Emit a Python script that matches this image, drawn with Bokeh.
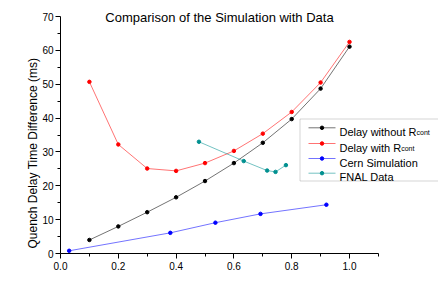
from bokeh.plotting import figure
from bokeh.models import Range1d, FixedTicker, PrintfTickFormatter, Label, BoxAnnotation, Title
from bokeh.embed import file_html
from bokeh.resources import INLINE

# ---- data ----
x_sim = [0.1, 0.2, 0.3, 0.4, 0.5, 0.6, 0.7, 0.8, 0.9, 1.0]
delay_without = [4.0, 8.0, 12.2, 16.6, 21.4, 26.7, 32.7, 39.7, 48.7, 61.1]
delay_with = [50.7, 32.2, 25.1, 24.4, 26.7, 30.3, 35.4, 41.8, 50.5, 62.5]
cern_x = [0.03, 0.38, 0.536, 0.692, 0.92]
cern_y = [0.8, 6.1, 9.1, 11.7, 14.4]
fnal_x = [0.479, 0.634, 0.715, 0.744, 0.78]
fnal_y = [33.0, 27.3, 24.5, 24.1, 26.1]

x_ticks = [0.0, 0.2, 0.4, 0.6, 0.8, 1.0]
x_minor = [0.1, 0.3, 0.5, 0.7, 0.9, 1.1]
y_ticks = [0, 10, 20, 30, 40, 50, 60, 70]
y_minor = [5, 15, 25, 35, 45, 55, 65]

series_names = ["Delay without R", "Delay with R", "Cern Simulation", "FNAL Data"]
series_subs = ["cont", "cont", "", ""]
series_colors = ["#000000", "#ff0000", "#0000ff", "#009090"]

FONT = "Liberation Sans"

# layout constants (pixels in the picture)
FX0, FY0 = 60.0, 253.0          # frame left / bottom
SX, SY = 289.0, 237.0 / 70.0    # px per data unit
X_END = (438.0 - FX0) / SX
Y_END = FY0 / SY

def dx(px):
    return (px - FX0) / SX

def dy(py):
    return (FY0 - py) / SY

p = figure(width=438, height=288, x_range=Range1d(0, X_END), y_range=Range1d(0, Y_END),
           output_backend="svg", toolbar_location=None, title=None,
           min_border_left=60, min_border_right=0, min_border_top=0, min_border_bottom=35)
p.background_fill_color = "white"
p.border_fill_color = "white"
p.outline_line_color = None
p.xgrid.visible = False
p.ygrid.visible = False

for ax in (p.xaxis[0], p.yaxis[0]):
    ax.axis_line_color = "black"
    ax.axis_line_width = 1
    ax.major_tick_line_color = "black"
    ax.minor_tick_line_color = "black"
    ax.major_tick_out = 5
    ax.major_tick_in = 0
    ax.minor_tick_out = 3
    ax.minor_tick_in = 0
    ax.major_label_text_font = FONT
    ax.major_label_text_font_size = "10px"
    ax.major_label_text_color = "black"

p.xaxis.bounds = (0, 1.1)
p.xaxis.ticker = FixedTicker(ticks=x_ticks, minor_ticks=x_minor)
p.xaxis.formatter = PrintfTickFormatter(format="%.1f")
p.xaxis.major_label_standoff = 3
p.yaxis.bounds = (0, 70)
p.yaxis.ticker = FixedTicker(ticks=y_ticks, minor_ticks=y_minor)
p.yaxis.major_label_standoff = 2

series = [(x_sim, delay_without), (x_sim, delay_with), (cern_x, cern_y), (fnal_x, fnal_y)]
for (xs, ys), c in zip(series, series_colors):
    p.line(xs, ys, line_color=c, line_width=1, line_alpha=0.55)
    p.scatter(xs, ys, marker="circle", size=3.5, fill_color=c, line_color=c)

# title
p.add_layout(Label(x=dx(219), y=dy(16.7), text="Comparison of the Simulation with Data",
                   text_font=FONT, text_font_size="13px", text_align="center",
                   text_baseline="alphabetic", text_color="black"))
# y axis label as a side title
p.add_layout(Title(text="Quench Delay Time Difference (ms)", align="left", offset=5,
                   standoff=0, text_font=FONT, text_font_size="12px",
                   text_font_style="normal", text_color="black"), "left")
# x axis label
p.add_layout(Label(x=dx(216), y=dy(287.5), text="I/Io", text_font=FONT, text_font_size="12px",
                   text_align="center", text_baseline="bottom", text_color="black"))

# legend (drawn by hand to allow the subscript)
p.add_layout(BoxAnnotation(left=dx(299.5), right=dx(480), top=dy(118.5), bottom=dy(180.5),
                           fill_alpha=0, line_color="#707070", line_width=1))
rows = [127.3, 143.0, 158.0, 172.7]
main_w = [77.0, 61.7, 0, 0]
for name, sub, c, ry, w in zip(series_names, series_subs, series_colors, rows, main_w):
    p.line([dx(308), dx(335)], [dy(ry), dy(ry)], line_color=c, line_width=1, line_alpha=0.55)
    p.scatter([dx(321.5)], [dy(ry)], marker="circle", size=3.5, fill_color=c, line_color=c)
    p.add_layout(Label(x=dx(339), y=dy(ry + 4), text=name, text_font=FONT, text_font_size="11px",
                       text_align="left", text_baseline="alphabetic", text_color="black"))
    if sub:
        p.add_layout(Label(x=dx(339 + w), y=dy(ry + 4.5), text=sub, text_font=FONT,
                           text_font_size="7px", text_align="left", text_baseline="alphabetic",
                           text_color="black"))

open("out.html", "w").write(file_html(p, INLINE))
